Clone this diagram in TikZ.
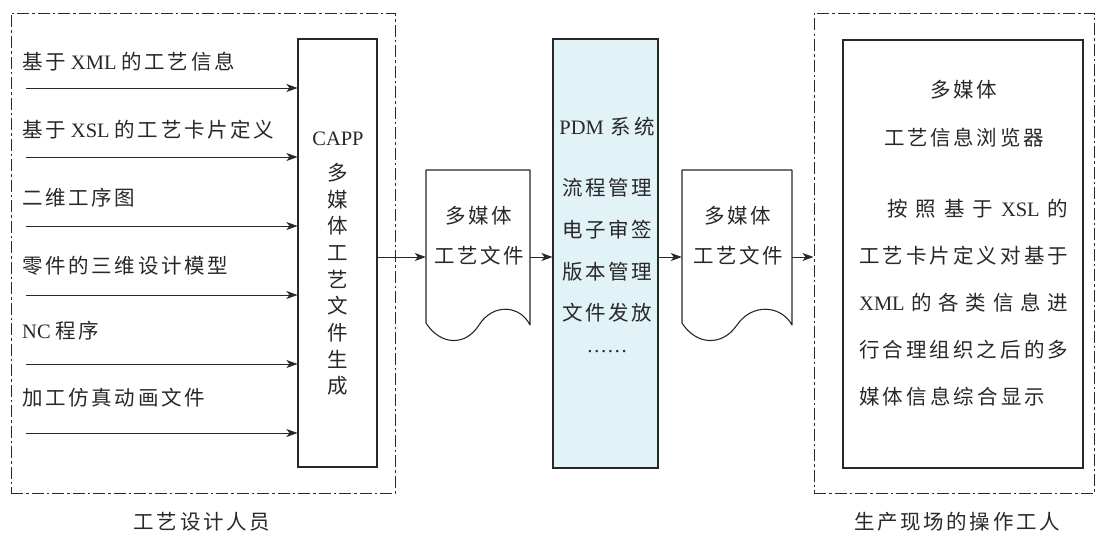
\documentclass[tikz,border=0pt]{standalone}
\usepackage{fontspec}
\setmainfont{Liberation Serif}
\newfontfamily\cjk{Noto Sans CJK SC}[LetterSpace=13]
\newfontfamily\cjkn{Noto Sans CJK SC}
\usetikzlibrary{arrows.meta}
\newcommand\zh[1]{{\cjk #1}}
\newcommand\zn[1]{{\cjkn #1}}
\definecolor{pdmfill}{RGB}{226,243,248}
\definecolor{ink}{RGB}{40,40,40}
\begin{document}
\begin{tikzpicture}[x=1pt,y=-1pt,
  frame/.style={draw=ink, line width=1pt, dash pattern=on 12pt off 3pt on 2.5pt off 3pt, inner sep=0pt},
  box/.style={draw=ink, line width=1.1pt, inner sep=0pt},
  arr/.style={draw=ink, line width=0.9pt, -{Stealth[length=11pt,width=8pt,inset=3pt]}},
  txt/.style={inner sep=0pt, text=ink, font=\fontsize{20.5pt}{24pt}\selectfont},
  docline/.style={draw=ink, line width=1.1pt, line join=round}]
\useasboundingbox (0,0) rectangle (1096,538);

% frames
\node[frame, minimum width=384pt, minimum height=480pt] (leftframe) at (203,253) {};
\node[frame, minimum width=280pt, minimum height=480pt] (rightframe) at (954,253) {};

% main boxes
\node[box, minimum width=79pt, minimum height=428pt] (capp) at (337.5,253) {};
\node[box, fill=pdmfill, minimum width=105pt, minimum height=429pt] (pdm) at (605.5,253.5) {};
\node[box, minimum width=240pt, minimum height=428pt] (viewer) at (963,254) {};

% documents (outline nodes + drawn shapes)
\node[inner sep=0pt, minimum width=104pt, minimum height=153pt] (doc1) at (478,246.5) {};
\node[inner sep=0pt, minimum width=110pt, minimum height=153pt] (doc2) at (737,246.5) {};
\draw[docline] (426,323) -- (426,170) -- (530,170) -- (530,325)
  .. controls (520,305) and (493,303) .. (479,325)
  .. controls (465,347) and (440,345) .. (426,323) -- cycle;
\draw[docline] (682,323) -- (682,170) -- (792,170) -- (792,325)
  .. controls (781,305) and (752,303) .. (737,325)
  .. controls (722,347) and (696,345) .. (682,323) -- cycle;

% left labels and arrows
\node[txt, anchor=west] (l1) at (22,62) {\zh{基于} XML \zh{的工艺信息}};
\node[txt, anchor=west] (l2) at (22,130) {\zh{基于} XSL \zh{的工艺卡片定义}};
\node[txt, anchor=west] (l3) at (22,198) {\zh{二维工序图}};
\node[txt, anchor=west] (l4) at (22,266) {\zh{零件的三维设计模型}};
\node[txt, anchor=west] (l5) at (22,331) {NC \zh{程序}};
\node[txt, anchor=west] (l6) at (22,398) {\zh{加工仿真动画文件}};
\foreach \yy [count=\i] in {88,157,226,295,364,433} {
  \coordinate (s\i) at (26,\yy);
  \draw[arr] (s\i) -- (s\i -| capp.west);
}

% CAPP text
\node[txt] (capptitle) at (338,139) {CAPP};
\foreach \ch [count=\i] in {多,媒,体,工,艺,文,件,生,成} {
  \node[txt] (cappc\i) at (337.5,{173+26.6*(\i-1)}) {\zn{\ch}};
}

% document texts
\node[txt] (d1a) at (479,216) {\zh{多媒体}};
\node[txt] (d1b) at (479,256) {\zh{工艺文件}};
\node[txt] (d2a) at (738,216) {\zh{多媒体}};
\node[txt] (d2b) at (738,256) {\zh{工艺文件}};

% PDM texts
\node[txt] (p0) at (607,127) {PDM\hspace{2pt} \zh{系统}};
\node[txt] (p1) at (607,188) {\zh{流程管理}};
\node[txt] (p2) at (607,230) {\zh{电子审签}};
\node[txt] (p3) at (607,272) {\zh{版本管理}};
\node[txt] (p4) at (607,313) {\zh{文件发放}};
\node[txt] (p5) at (607,352) {……};

% flow arrows
\coordinate (m) at (0,257);
\draw[arr] (capp.east |- m) -- (doc1.west |- m);
\draw[arr] (doc1.east |- m) -- (pdm.west |- m);
\draw[arr] (pdm.east |- m) -- (doc2.west |- m);
\draw[arr] (doc2.east |- m) -- (rightframe.west |- m);

% viewer texts
\node[txt] (v1) at (964,90) {\zh{多媒体}};
\node[txt] (v2) at (964,138) {\zh{工艺信息浏览器}};
\node[txt, anchor=west] (v3) at (887,209) {\cjkn\makebox[181pt][s]{按\hfil 照\hfil 基\hfil 于\hfil {\rmfamily XSL}\hfil 的}};
\node[txt, anchor=west] (v4) at (859,256) {\cjkn\makebox[209pt][s]{工\hfil 艺\hfil 卡\hfil 片\hfil 定\hfil 义\hfil 对\hfil 基\hfil 于}};
\node[txt, anchor=west] (v5) at (859,303) {\cjkn\makebox[209pt][s]{{\rmfamily XML}\hfil 的\hfil 各\hfil 类\hfil 信\hfil 息\hfil 进}};
\node[txt, anchor=west] (v6) at (859,350) {\cjkn\makebox[209pt][s]{行\hfil 合\hfil 理\hfil 组\hfil 织\hfil 之\hfil 后\hfil 的\hfil 多}};
\node[txt, anchor=west] (v7) at (859,397) {\cjkn\makebox[186pt][s]{媒\hfil 体\hfil 信\hfil 息\hfil 综\hfil 合\hfil 显\hfil 示}};

% bottom captions
\node[txt] (capL) at (202,522) {\zh{工艺设计人员}};
\node[txt] (capR) at (957,522) {\zh{生产现场的操作工人}};
\end{tikzpicture}
\end{document}
